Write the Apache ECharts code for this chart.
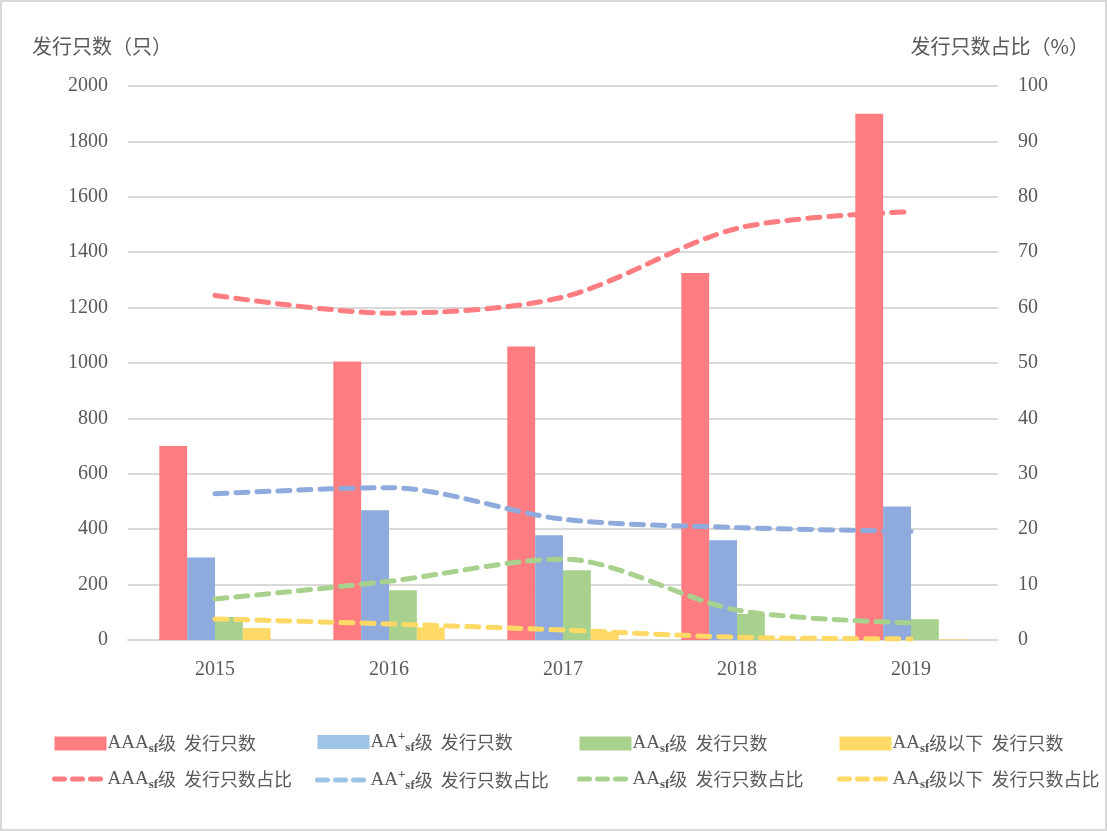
<!DOCTYPE html>
<html>
<head>
<meta charset="utf-8">
<script src="https://cdn.jsdelivr.net/npm/echarts@6/dist/echarts.min.js"></script>
<style>
  html, body { margin: 0; padding: 0; background: #fff; }
  #chart { width: 1107px; height: 831px; box-sizing: border-box; border: 2px solid #d9d9d9; }
</style>
</head>
<body>
<div id="chart"></div>
<script>
// data
var years = ['2015', '2016', '2017', '2018', '2019'];
var aaaCount = [700, 1005, 1060, 1325, 1900];
var aaPlusCount = [298, 468, 378, 360, 482];
var aaCount = [83, 180, 252, 94, 75];
var belowCount = [43, 46, 30, 5, 2];
var aaaPct = [62.2, 59.0, 61.9, 74.3, 77.3];
var aaPlusPct = [26.4, 27.5, 21.8, 20.3, 19.6];
var aaPct = [7.4, 10.6, 14.6, 5.4, 3.1];
var belowPct = [3.8, 2.9, 1.8, 0.5, 0.2];

var colors = ['#FF7C80', '#8FAADC', '#A9D18E', '#FFD966'];
var legendColors = ['#FF7C80', '#9DC3E6', '#A9D18E', '#FFD966'];
var cjk = '"Noto Sans CJK SC", sans-serif';
var serif = '"Liberation Serif", "Times New Roman", serif';

// legend label with subscript / superscript parts
var labels = {
    'AAA_bar': '{b|AAA}{s|sf}{c|级  发行只数}',
    'AAP_bar': '{b|AA}{p|+}{s|sf}{c|级  发行只数}',
    'AA_bar': '{b|AA}{s|sf}{c|级  发行只数}',
    'BL_bar': '{b|AA}{s|sf}{c|级以下  发行只数}',
    'AAA_line': '{b|AAA}{s|sf}{c|级  发行只数占比}',
    'AAP_line': '{b|AA}{p|+}{s|sf}{c|级  发行只数占比}',
    'AA_line': '{b|AA}{s|sf}{c|级  发行只数占比}',
    'BL_line': '{b|AA}{s|sf}{c|级以下  发行只数占比}'
};
var rich = {
    b: { fontFamily: serif, fontSize: 19, lineHeight: 24, color: '#595959' },
    s: { fontFamily: serif, fontSize: 13, lineHeight: 13, fontWeight: 'bold', color: '#595959', verticalAlign: 'bottom' },
    p: { fontFamily: serif, fontSize: 13, lineHeight: 13, fontWeight: 'bold', color: '#595959', verticalAlign: 'top' },
    c: { fontFamily: cjk, fontSize: 18, lineHeight: 24, color: '#595959' }
};

function barSeries(name, data, color) {
    return {
        name: name, type: 'bar', data: data, yAxisIndex: 0,
        barGap: '0%', barCategoryGap: '36%',
        itemStyle: { color: color }
    };
}
function lineSeries(name, data, color) {
    return {
        name: name, type: 'line', data: data, yAxisIndex: 1,
        smooth: 0.3, symbol: 'none',
        lineStyle: { color: color, width: 5, type: [12, 9], cap: 'round' },
        itemStyle: { color: color }
    };
}

function legendCol(left, top, idx, barName, lineName) {
    return {
        left: left, top: top, orient: 'vertical', itemGap: 14,
        itemWidth: 52, itemHeight: 14,
        data: [
            { name: barName, icon: 'rect', itemStyle: { color: legendColors[idx] } },
            { name: lineName, itemStyle: { opacity: 0 },
              lineStyle: { color: legendColors[idx], width: 5, type: [10, 8], cap: 'round' } }
        ],
        formatter: function (n) { return labels[n]; },
        textStyle: { rich: rich, padding: [0, 0, 0, -4] }
    };
}

var chart = echarts.init(document.getElementById('chart'));
chart.setOption({
    animation: false,
    grid: { left: 126, right: 107, top: 84, bottom: 189 },
    legend: [
        legendCol(45, 727, 0, 'AAA_bar', 'AAA_line'),
        legendCol(308, 723, 1, 'AAP_bar', 'AAP_line'),
        legendCol(570, 727, 2, 'AA_bar', 'AA_line'),
        legendCol(830, 727, 3, 'BL_bar', 'BL_line')
    ],
    graphic: [
        { type: 'text', left: 30, top: 34, style: { text: '发行只数（只）', font: '20px ' + cjk, fill: '#595959' } },
        { type: 'text', right: 16, top: 34, style: { text: '发行只数占比（%）', font: '20px ' + cjk, fill: '#595959' } }
    ],
    xAxis: {
        type: 'category', data: years,
        axisLine: { lineStyle: { color: '#d9d9d9', width: 2 } },
        axisTick: { show: false },
        axisLabel: { fontFamily: serif, fontSize: 20, color: '#595959', margin: 20 }
    },
    yAxis: [
        {
            type: 'value', min: 0, max: 2000, interval: 200, position: 'left',
            axisLine: { show: false }, axisTick: { show: false },
            splitLine: { lineStyle: { color: '#d9d9d9', width: 2 } },
            axisLabel: { fontFamily: serif, fontSize: 20, color: '#595959', margin: 20,
                formatter: function (v) { return String(v); } }
        },
        {
            type: 'value', min: 0, max: 100, interval: 10, position: 'right',
            axisLine: { show: false }, axisTick: { show: false },
            splitLine: { show: false },
            axisLabel: { fontFamily: serif, fontSize: 20, color: '#595959', margin: 20 }
        }
    ],
    series: [
        barSeries('AAA_bar', aaaCount, colors[0]),
        barSeries('AAP_bar', aaPlusCount, colors[1]),
        barSeries('AA_bar', aaCount, colors[2]),
        barSeries('BL_bar', belowCount, colors[3]),
        lineSeries('AAA_line', aaaPct, colors[0]),
        lineSeries('AAP_line', aaPlusPct, colors[1]),
        lineSeries('AA_line', aaPct, colors[2]),
        lineSeries('BL_line', belowPct, colors[3])
    ]
});
</script>
</body>
</html>
